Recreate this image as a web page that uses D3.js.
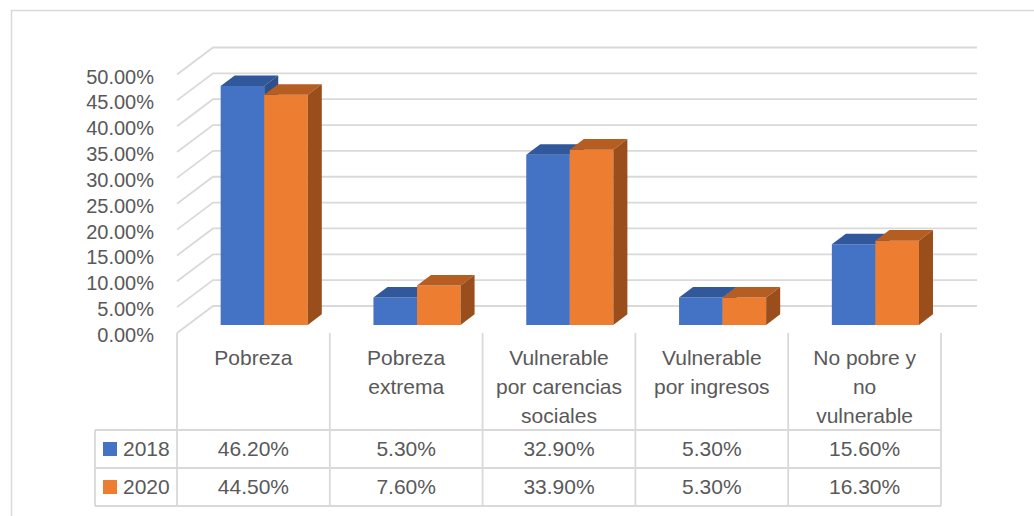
<!DOCTYPE html>
<html lang="es">
<head>
    <meta charset="UTF-8">
    <title>Pobreza 2018 - 2020</title>
    <script src="https://d3js.org/d3.v7.min.js"></script>
    <style>
        body { margin: 0; background: #fff; }
        svg text { font-family: "Liberation Sans", Arial, sans-serif; fill: #595959; }
    </style>
</head>
<body>
    <div id="chart"></div>

    <script>
        // datos
        const categories = ["Pobreza", "Pobreza extrema", "Vulnerable por carencias sociales", "Vulnerable por ingresos", "No pobre y no vulnerable"];
        const categoryLines = [["Pobreza"], ["Pobreza", "extrema"], ["Vulnerable", "por carencias", "sociales"], ["Vulnerable", "por ingresos"], ["No pobre y", "no", "vulnerable"]];
        const seriesNames = ["2018", "2020"];
        const values2018 = [46.2, 5.3, 32.9, 5.3, 15.6];
        const values2020 = [44.5, 7.6, 33.9, 5.3, 16.3];
        const yTicks = [0, 5, 10, 15, 20, 25, 30, 35, 40, 45, 50];

        const W = 1034, H = 516;
        const DX = 36, DY = 27;          // profundidad de la caja 3D
        const zFront = 0.30, zBack = 0.69; // profundidad de las barras

        const colors = [
            { front: "#4472C4", top: "#30589A", side: "#2E4F8A" },
            { front: "#ED7D31", top: "#B65D21", side: "#9A4E1C" }
        ];

        const svg = d3.select("#chart").append("svg")
            .attr("width", W).attr("height", H);

        // marco exterior
        svg.append("rect")
            .attr("x", 11.5).attr("y", 10.5)
            .attr("width", 1100).attr("height", 600)
            .attr("fill", "none").attr("stroke", "#D9D9D9").attr("stroke-width", 1.5);

        const x = d3.scaleBand().domain(categories).range([177, 941]);
        const y = d3.scaleLinear().domain([0, 50]).range([333, 74.5]);
        const xs = d3.scaleBand().domain(seriesNames).range([0, x.bandwidth() * 0.57]);
        const groupPad = (x.bandwidth() - xs.range()[1]) / 2;

        const P = (px, v, z) => [px + z * DX, y(v) - z * DY];

        // rejilla
        const grid = svg.append("g").attr("stroke", "#D9D9D9").attr("stroke-width", 1.8).attr("fill", "none");
        yTicks.forEach(t => {
            const a = P(x.range()[0], t, 0), b = P(x.range()[0], t, 1), c = P(x.range()[1], t, 1);
            grid.append("polyline").attr("points", [a, b, c].map(p => p.join(",")).join(" "));
        });

        // etiquetas eje y
        svg.append("g").selectAll("text")
            .data(yTicks).enter().append("text")
            .attr("x", 154).attr("y", d => y(d) + 2)
            .attr("dy", "0.35em")
            .attr("text-anchor", "end")
            .attr("font-size", 20)
            .text(d => d.toFixed(2) + "%");

        // barras 3D
        const series = [values2018, values2020];
        const bars = svg.append("g");
        categories.forEach((cat, i) => {
            seriesNames.forEach((s, j) => {
                const v = series[j][i];
                const x0 = x(cat) + groupPad + xs(s);
                const x1 = x0 + xs.bandwidth();
                const c = colors[j];
                const pts = arr => arr.map(p => p.join(",")).join(" ");
                // frente
                bars.append("polygon").attr("fill", c.front)
                    .attr("points", pts([P(x0, 0, zFront), P(x1, 0, zFront), P(x1, v, zFront), P(x0, v, zFront)]));
                // techo
                bars.append("polygon").attr("fill", c.top)
                    .attr("points", pts([P(x0, v, zFront), P(x1, v, zFront), P(x1, v, zBack), P(x0, v, zBack)]));
                // lado
                bars.append("polygon").attr("fill", c.side)
                    .attr("points", pts([P(x1, 0, zFront), P(x1, 0, zBack), P(x1, v, zBack), P(x1, v, zFront)]));
            });
        });

        // tabla de datos
        const rowLines = [430, 468, 506];
        const table = svg.append("g").attr("stroke", "#D9D9D9").attr("stroke-width", 1.8);
        categories.forEach(cat => {
            table.append("line").attr("x1", x(cat)).attr("x2", x(cat)).attr("y1", 333).attr("y2", 506);
        });
        table.append("line").attr("x1", x.range()[1]).attr("x2", x.range()[1]).attr("y1", 333).attr("y2", 506);
        table.append("line").attr("x1", 95).attr("x2", 95).attr("y1", 430).attr("y2", 506);
        rowLines.forEach(ry => {
            table.append("line").attr("x1", 95).attr("x2", x.range()[1]).attr("y1", ry).attr("y2", ry);
        });

        // encabezados de categoría
        categories.forEach((cat, i) => {
            const t = svg.append("text")
                .attr("text-anchor", "middle")
                .attr("font-size", 21)
                .attr("x", x(cat) + x.bandwidth() / 2)
                .attr("y", 358).attr("dy", "0.35em");
            categoryLines[i].forEach((line, k) => {
                t.append("tspan").attr("x", x(cat) + x.bandwidth() / 2)
                    .attr("dy", k === 0 ? "0.35em" : 29).text(line);
            });
        });

        // filas de valores
        const rowMid = [449, 487];
        seriesNames.forEach((s, j) => {
            svg.append("rect").attr("x", 103).attr("y", rowMid[j] - 7)
                .attr("width", 14).attr("height", 14).attr("fill", colors[j].front);
            svg.append("text").attr("x", 123).attr("y", rowMid[j]).attr("dy", "0.35em")
                .attr("font-size", 21).text(s);
            svg.append("g").selectAll("text")
                .data(series[j]).enter().append("text")
                .attr("x", (d, i) => x(categories[i]) + x.bandwidth() / 2)
                .attr("y", rowMid[j]).attr("dy", "0.35em")
                .attr("text-anchor", "middle")
                .attr("font-size", 21)
                .text(d => d.toFixed(2) + "%");
        });
    </script>
</body>
</html>
